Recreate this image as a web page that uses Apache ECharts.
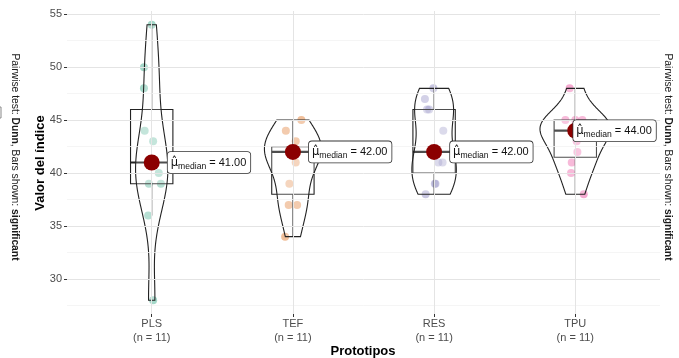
<!DOCTYPE html>
<html>
<head>
<meta charset="utf-8">
<script src="https://cdn.jsdelivr.net/npm/echarts@6/dist/echarts.min.js"></script>
<style>
html,body{margin:0;padding:0;background:#fff;}
#chart{width:679px;height:358px;}
</style>
</head>
<body>
<div id="chart"></div>
<script>
// ---- data ----
const categories = ['PLS', 'TEF', 'RES', 'TPU'];
const plsValues = [54, 50, 48, 44, 43, 41, 40, 39, 39, 36, 28];
const tefValues = [45, 44, 43, 42, 42, 42, 41, 39, 37, 37, 34];
const resValues = [48, 47, 46, 46, 44, 42, 41, 41, 39, 39, 38];
const tpuValues = [48, 45, 45, 45, 44, 44, 43, 42, 41, 40, 38];
// horizontal jitter of each point (category units)
const plsJitter = [0.00, -0.055, -0.055, -0.05, 0.01, 0.00, 0.05, -0.02, 0.065, -0.025, 0.01];
const tefJitter = [0.06, -0.05, 0.02, 0.00, -0.02, 0.03, 0.02, -0.025, -0.03, 0.03, -0.055];
const resJitter = [-0.005, -0.065, -0.05, -0.035, 0.065, 0.00, 0.06, 0.03, 0.005, 0.01, -0.06];
const tpuJitter = [-0.04, -0.07, 0.05, 0.00, 0.00, 0.03, 0.01, 0.015, -0.025, -0.03, 0.06];
const yTicks = [30, 35, 40, 45, 50, 55];
const yMinorTicks = [27.5, 32.5, 37.5, 42.5, 47.5, 52.5];

// ---- styles ----
const pointColors = ['#1B9E77', '#D95F02', '#7570B3', '#E7298A'];
const labelShift = [0, 0, 0, -18];
const FONT = '"Liberation Sans", Arial, Helvetica, sans-serif';
const INK = '#222222';

const groupValues = [plsValues, tefValues, resValues, tpuValues];
const groupJitter = [plsJitter, tefJitter, resJitter, tpuJitter];

function quant(sorted, p) {
  const h = (sorted.length - 1) * p;
  const lo = Math.floor(h);
  const hi = Math.min(lo + 1, sorted.length - 1);
  return sorted[lo] + (h - lo) * (sorted[hi] - sorted[lo]);
}
function sd(arr) {
  const m = arr.reduce((a, b) => a + b, 0) / arr.length;
  return Math.sqrt(arr.reduce((a, b) => a + (b - m) * (b - m), 0) / (arr.length - 1));
}
const N = 128;
const stats = groupValues.map(vals => {
  const s = vals.slice().sort((a, b) => a - b);
  const q1 = quant(s, 0.25), q3 = quant(s, 0.75), med = quant(s, 0.5);
  const iqr = q3 - q1;
  const lw = s.filter(v => v >= q1 - 1.5 * iqr)[0];
  const uw = s.filter(v => v <= q3 + 1.5 * iqr).slice(-1)[0];
  const bw = 0.9 * Math.min(sd(s), iqr / 1.34) * Math.pow(s.length, -0.2);
  const lo = s[0], hi = s[s.length - 1];
  const ys = [], dens = [];
  for (let k = 0; k < N; k++) {
    const y = lo + (hi - lo) * k / (N - 1);
    let d = 0;
    s.forEach(v => { const z = (y - v) / bw; d += Math.exp(-0.5 * z * z); });
    d /= (s.length * bw * Math.sqrt(2 * Math.PI));
    ys.push(y); dens.push(d);
  }
  return { q1, q3, med, lw, uw, ys, dens, n: s.length };
});
const maxDens = Math.max(...stats.map(s => Math.max(...s.dens)));

const chart = echarts.init(document.getElementById('chart'), null, { renderer: 'canvas' });

const pointSeries = groupValues.map((vals, gi) => ({
  type: 'scatter',
  z: 2,
  symbolSize: 8,
  silent: true,
  itemStyle: { color: pointColors[gi], opacity: 0.4 },
  data: vals.map((v, k) => [gi + 1 + groupJitter[gi][k], v])
}));

const gridMarks = [];
yMinorTicks.forEach(v => gridMarks.push({ yAxis: v, lineStyle: { color: '#f2f2f2', width: 0.8, type: 'solid' } }));
yTicks.forEach(v => gridMarks.push({ yAxis: v, lineStyle: { color: '#e4e4e4', width: 1, type: 'solid' } }));
categories.forEach((c, i) => gridMarks.push({ xAxis: i + 1, lineStyle: { color: '#e4e4e4', width: 1, type: 'solid' } }));

const sideRich = {
  n: { fontSize: 10.3, fontFamily: FONT, fill: '#1a1a1a' },
  b: { fontSize: 10.3, fontFamily: FONT, fontWeight: 'bold', fill: '#1a1a1a' }
};

const option = {
  animation: false,
  backgroundColor: '#ffffff',
  grid: { left: 67, right: 19, top: 11, bottom: 44 },
  xAxis: {
    type: 'value', min: 0.4, max: 4.6,
    axisLine: { show: false },
    splitLine: { show: false },
    axisTick: { show: true, customValues: [1, 2, 3, 4], length: 3, lineStyle: { color: '#333', width: 1 } },
    axisLabel: {
      customValues: [1, 2, 3, 4],
      margin: 3,
      color: '#4d4d4d', fontSize: 11, fontFamily: FONT, lineHeight: 14,
      formatter: v => {
        const i = Math.round(v) - 1;
        return categories[i] + '\n(n = ' + groupValues[i].length + ')';
      }
    }
  },
  yAxis: {
    type: 'value', min: 26.7, max: 55.3,
    axisLine: { show: false },
    splitLine: { show: false },
    axisTick: { show: true, customValues: yTicks, length: 3, lineStyle: { color: '#333', width: 1 } },
    axisLabel: { customValues: yTicks, margin: 5, color: '#4d4d4d', fontSize: 11, fontFamily: FONT }
  },
  series: [
    {
      type: 'scatter', z: 0, silent: true, symbolSize: 0,
      data: [[1, 40]],
      markLine: {
        silent: true, symbol: ['none', 'none'], label: { show: false }, animation: false,
        lineStyle: { type: 'solid' },
        data: gridMarks
      }
    },
    ...pointSeries,
    {
      type: 'custom', z: 3, silent: true,
      data: stats.map((s, i) => [i + 1, s.med]),
      renderItem: (params, api) => {
        const s = stats[params.dataIndex];
        const x = api.value(0);
        const hw = 0.15;
        const tl = api.coord([x - hw, s.q3]);
        const br = api.coord([x + hw, s.q1]);
        const mL = api.coord([x - hw, s.med]);
        const mR = api.coord([x + hw, s.med]);
        const c = api.coord([x, s.q3]);
        const up = api.coord([x, s.uw]);
        const cb = api.coord([x, s.q1]);
        const dn = api.coord([x, s.lw]);
        const st = { stroke: INK, lineWidth: 1.1 };
        return {
          type: 'group',
          children: [
            { type: 'line', shape: { x1: c[0], y1: c[1], x2: up[0], y2: up[1] }, style: st },
            { type: 'line', shape: { x1: cb[0], y1: cb[1], x2: dn[0], y2: dn[1] }, style: st },
            { type: 'rect', shape: { x: tl[0], y: tl[1], width: br[0] - tl[0], height: br[1] - tl[1] },
              style: { fill: 'rgba(255,255,255,0.2)', stroke: INK, lineWidth: 1.1 } },
            { type: 'line', shape: { x1: mL[0], y1: mL[1], x2: mR[0], y2: mR[1] }, style: { stroke: INK, lineWidth: 2.2 } }
          ]
        };
      }
    },
    {
      type: 'custom', z: 4, silent: true,
      data: stats.map((s, i) => [i + 1, s.med]),
      renderItem: (params, api) => {
        const s = stats[params.dataIndex];
        const x = api.value(0);
        const right = [], left = [];
        for (let k = 0; k < s.ys.length; k++) {
          const w = s.dens[k] / maxDens * 0.25;
          right.push(api.coord([x + w, s.ys[k]]));
          left.push(api.coord([x - w, s.ys[k]]));
        }
        const pts = right.concat(left.reverse());
        return {
          type: 'polygon',
          shape: { points: pts },
          style: { fill: 'rgba(255,255,255,0.2)', stroke: INK, lineWidth: 1.1 }
        };
      }
    },
    {
      type: 'scatter', z: 5, silent: true,
      symbolSize: 16,
      itemStyle: { color: '#8B0000', opacity: 1 },
      data: stats.map((s, i) => ({
        value: [i + 1, s.med],
        label: { offset: [labelShift[i], 0] }
      })),
      label: {
        show: true,
        position: 'right',
        distance: 8,
        formatter: p => '{mu|\u03BC\u0302}{sub|median}{t| = ' + p.value[1].toFixed(2) + '}',
        backgroundColor: '#ffffff',
        borderColor: '#333',
        borderWidth: 0.8,
        borderRadius: 3,
        padding: [3, 4, 2, 3],
        rich: {
          mu: { fontSize: 11.5, fontFamily: '"DejaVu Sans", sans-serif', color: '#111', lineHeight: 16, verticalAlign: 'middle' },
          sub: { fontSize: 8.6, fontFamily: FONT, color: '#111', lineHeight: 16, verticalAlign: 'bottom', padding: [5, 0, 0, 0] },
          t: { fontSize: 11, fontFamily: FONT, color: '#111', lineHeight: 16, verticalAlign: 'middle' }
        }
      }
    }
  ],
  graphic: [
    {
      type: 'text', x: 40, y: 163, rotation: Math.PI / 2,
      style: { text: 'Valor del índice', font: 'bold 13px ' + FONT, fill: '#000', align: 'center', verticalAlign: 'middle' }
    },
    {
      type: 'text', x: 363, y: 351,
      style: { text: 'Prototipos', font: 'bold 13px ' + FONT, fill: '#000', align: 'center', verticalAlign: 'middle' }
    },
    {
      type: 'text', x: 15, y: 157, rotation: -Math.PI / 2,
      style: {
        text: '{n|Pairwise test: }{b|Dunn}{n|, Bars shown: }{b|significant}',
        align: 'center', verticalAlign: 'middle', rich: sideRich
      }
    },
    {
      type: 'text', x: 668, y: 157, rotation: -Math.PI / 2,
      style: {
        text: '{n|Pairwise test: }{b|Dunn}{n|, Bars shown: }{b|significant}',
        align: 'center', verticalAlign: 'middle', rich: sideRich
      }
    },
    {
      type: 'text', x: 67, y: 2,
      style: { text: 'Kruskal-Wallis', font: '9.5px ' + FONT, fill: '#222', align: 'left', verticalAlign: 'bottom' }
    },
    {
      type: 'text', x: 257, y: 2,
      style: { text: 'ordinal', font: '9.5px ' + FONT, fill: '#222', align: 'left', verticalAlign: 'bottom' }
    },
    {
      type: 'rect', shape: { x: -10, y: 107, width: 11, height: 11 },
      style: { fill: 'none', stroke: '#888', lineWidth: 1 }
    }
  ]
};
chart.setOption(option);
</script>
</body>
</html>
